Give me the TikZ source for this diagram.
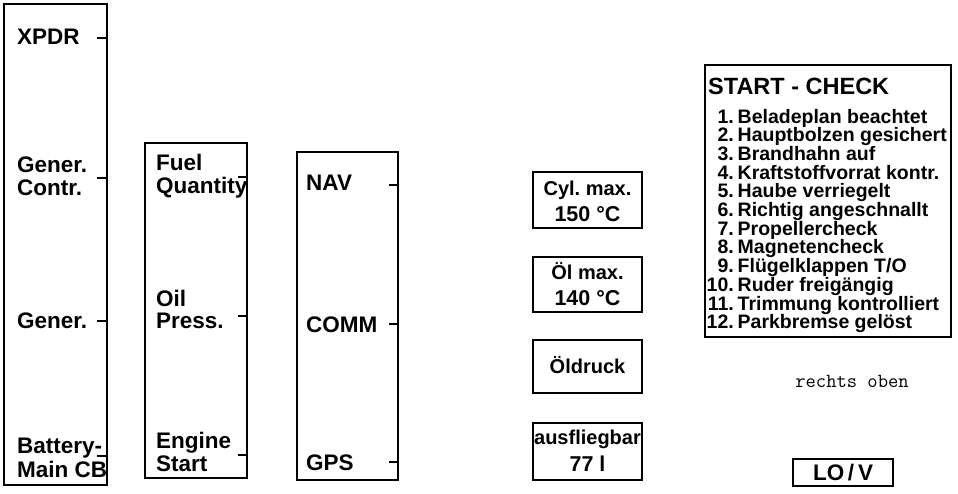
\documentclass[tikz,border=0pt]{standalone}
\usepackage{fontspec}
\setmainfont{Liberation Sans}
\frenchspacing
\begin{document}
\frenchspacing
\begin{tikzpicture}[x=1pt,y=-1pt,
  frame/.style={draw, line width=2.2pt, inner sep=0pt},
  lab/.style={font=\fontsize{22.5}{24}\selectfont\bfseries, anchor=base west, inner sep=0pt},
  small/.style={font=\fontsize{20}{22}\selectfont\bfseries, anchor=base, inner sep=0pt},
  item/.style={font=\fontsize{19.5}{20}\selectfont\bfseries, inner sep=0pt},
  tickmark/.style={line width=1.8pt}]
\useasboundingbox (0,0) rectangle (958,493);

% Column 1
\node[frame, minimum width=103pt, minimum height=481pt] (b1) at (55.5,244.5) {};
\node[lab] (xpdr) at (17,44) {XPDR};
\node[lab] (gc1) at (17,172) {Gener.};
\node[lab] (gc2) at (17,195) {Contr.};
\node[lab] (gen) at (17,328) {Gener.};
\node[lab] (bat1) at (17,453) {Battery-};
\node[lab] (bat2) at (17,477) {Main CB};
\foreach \y/\n in {38/a,178/b,321/c,456/d}{
  \coordinate (t1\n) at (b1.east |- 0,\y);
  \draw[tickmark] (t1\n) -- ++(-11,0);
}

% Column 2
\node[frame, minimum width=102pt, minimum height=335pt] (b2) at (196,310.5) {};
\node[lab] (fq1) at (156,170) {Fuel};
\node[lab] (fq2) at (156,193) {Quantity};
\node[lab] (op1) at (156,306) {Oil};
\node[lab] (op2) at (156,328) {Press.};
\node[lab] (es1) at (156,448) {Engine};
\node[lab] (es2) at (156,471) {Start};
\foreach \y/\n in {177/a,316/b,455/c}{
  \coordinate (t2\n) at (b2.east |- 0,\y);
  \draw[tickmark] (t2\n) -- ++(-10,0);
}

% Column 3
\node[frame, minimum width=101pt, minimum height=328pt] (b3) at (347.5,316) {};
\node[lab] (nav) at (306,190) {NAV};
\node[lab] (comm) at (306,332) {COMM};
\node[lab] (gps) at (306,470) {GPS};
\foreach \y/\n in {185/a,324/b,462/c}{
  \coordinate (t3\n) at (b3.east |- 0,\y);
  \draw[tickmark] (t3\n) -- ++(-10,0);
}

% Small boxes
\node[frame, line width=2.6pt, minimum width=109pt, minimum height=56pt] (s1) at (587.5,200) {};
\node[small] (s1a) at (587.5,195) {Cyl. max.};
\node[small, font=\fontsize{21.5}{22}\selectfont\bfseries] (s1b) at (587.5,221) {150 °C};
\node[frame, line width=2.6pt, minimum width=109pt, minimum height=55pt] (s2) at (587.5,284.5) {};
\node[small] (s2a) at (587.5,279) {Öl max.};
\node[small, font=\fontsize{21.5}{22}\selectfont\bfseries] (s2b) at (587.5,305) {140 °C};
\node[frame, line width=2.6pt, minimum width=109pt, minimum height=53pt] (s3) at (587.5,366.5) {};
\node[small] (s3a) at (587.5,373) {Öldruck};
\node[frame, line width=2.6pt, minimum width=109pt, minimum height=57pt] (s4) at (587.5,451.5) {};
\node[small] (s4a) at (587.5,444) {ausfliegbar};
\node[small, font=\fontsize{21.5}{22}\selectfont\bfseries] (s4b) at (587.5,471) {77 l};

% Start check
\node[frame, minimum width=246pt, minimum height=272pt] (chk) at (828,201) {};
\node[font=\fontsize{23.5}{24}\selectfont\bfseries, anchor=base west, inner sep=0pt] (title) at (708,94) {START - CHECK};
\foreach \n/\t [count=\i] in {1/{Beladeplan beachtet},2/{Hauptbolzen gesichert},3/{Brandhahn auf},4/{Kraftstoffvorrat kontr.},5/{Haube verriegelt},6/{Richtig angeschnallt},7/{Propellercheck},8/{Magnetencheck},9/{Flügelklappen T/O},10/{Ruder freigängig},11/{Trimmung kontrolliert},12/{Parkbremse gelöst}}{
  \node[item, anchor=base east] (n\i) at (734,{123+18.7*(\i-1)}) {\n.};
  \node[item, anchor=base west] (i\i) at ([xshift=3.5pt]n\i.base east) {\t};
}

\node[font=\fontsize{20}{22}\selectfont\ttfamily, inner sep=0pt] (ro) at (852,381) {rechts oben};
\node[frame, minimum width=100pt, minimum height=27pt, font=\fontsize{22.5}{24}\selectfont\bfseries] (lov) at (843,472.5) {LO\,/\,V};
\end{tikzpicture}
\end{document}
